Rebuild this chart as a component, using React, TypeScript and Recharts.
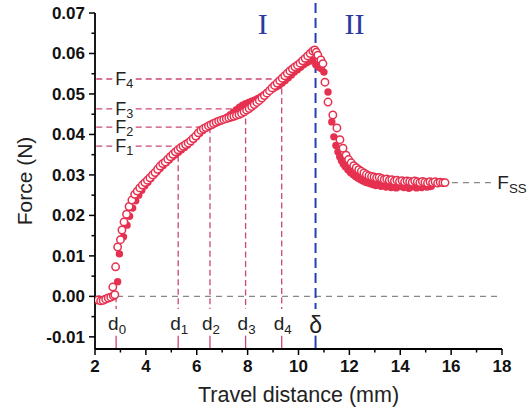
import { ScatterChart, Scatter, XAxis, YAxis, ReferenceLine, ReferenceDot } from 'recharts';

// hollow markers (white centre)
const openTravel = [
  2.12, 2.22, 2.32, 2.42, 2.52, 2.62, 2.72, 2.78, 2.7, 2.81, 2.89, 3.0, 3.06, 3.14, 3.24, 3.34,
  3.45, 3.56, 3.66, 3.76, 3.86, 3.96, 4.06, 4.16, 4.26, 4.36, 4.46, 4.56, 4.66, 4.76, 4.86, 4.96,
  5.06, 5.16, 5.26, 5.36, 5.46, 5.56, 5.66, 5.76, 5.86, 5.96, 6.06, 6.16, 6.26, 6.36, 6.46, 6.56,
  6.66, 6.76, 6.86, 6.96, 7.06, 7.16, 7.26, 7.36, 7.46, 7.56, 7.66, 7.76, 7.86, 7.96, 8.06, 8.16,
  8.26, 8.36, 8.46, 8.56, 8.66, 8.76, 8.86, 8.96, 9.06, 9.16, 9.26, 9.36, 9.46, 9.56, 9.66, 9.76,
  9.86, 9.96, 10.06, 10.16, 10.26, 10.36, 10.46, 10.56, 10.64, 10.7, 10.76, 10.88, 10.96, 11.04,
  11.16, 11.35, 11.51, 11.63, 11.75, 11.87, 11.97, 12.07, 12.17, 12.27, 12.37, 12.47, 12.57, 12.67,
  12.77, 12.87, 12.97, 13.07, 13.17, 13.27, 13.37, 13.47, 13.57, 13.67, 13.77, 13.87, 13.97, 14.07,
  14.17, 14.27, 14.37, 14.47, 14.57, 14.67, 14.77, 14.87, 14.97, 15.07, 15.17, 15.27, 15.37, 15.47,
  15.57, 15.67, 15.76,
];
const openForce = [
  -0.0009, -0.0011, -0.001, -0.0007, -0.0004, -0.0002, 0.0001, 0.0004, 0.0023, 0.0073, 0.0122, 0.014,
  0.0164, 0.0184, 0.0203, 0.0222, 0.0238, 0.0252, 0.026, 0.0268, 0.0275, 0.0281, 0.0287, 0.0293,
  0.03, 0.0306, 0.0314, 0.0322, 0.0328, 0.0332, 0.0339, 0.0345, 0.0351, 0.0357, 0.0362, 0.0367,
  0.0371, 0.0375, 0.0379, 0.0384, 0.039, 0.0396, 0.0404, 0.041, 0.0414, 0.0417, 0.0421, 0.0424,
  0.0427, 0.043, 0.0433, 0.0435, 0.0437, 0.0439, 0.0441, 0.0443, 0.0445, 0.0447, 0.0449, 0.0452,
  0.0456, 0.046, 0.0464, 0.0469, 0.0474, 0.0479, 0.0484, 0.049, 0.0496, 0.0502, 0.0508, 0.0515,
  0.0521, 0.0527, 0.0533, 0.0539, 0.0545, 0.0551, 0.0557, 0.0562, 0.0567, 0.0571, 0.0576, 0.0582,
  0.0588, 0.0594, 0.06, 0.0606, 0.0609, 0.0603, 0.0596, 0.0584, 0.0575, 0.0529, 0.048, 0.0448,
  0.0416, 0.0387, 0.0366, 0.0349, 0.0338, 0.033, 0.0323, 0.0318, 0.0313, 0.0309, 0.0305, 0.0301,
  0.0298, 0.0296, 0.0295, 0.0293, 0.0294, 0.0291, 0.0289, 0.029, 0.0287, 0.0288, 0.0285, 0.0287,
  0.0284, 0.0286, 0.0283, 0.0285, 0.0284, 0.0282, 0.0285, 0.0283, 0.0281, 0.0284, 0.0282, 0.028,
  0.0283, 0.0281, 0.0283, 0.028, 0.0282, 0.0281, 0.0281,
];

// filled markers
const solidTravel = [
  2.18, 2.4, 2.6, 2.75, 2.89, 2.96, 3.12, 3.26, 3.36, 3.48, 3.6, 3.72, 3.84, 3.96, 4.08, 4.2,
  4.32, 4.44, 4.56, 4.68, 4.8, 4.92, 5.04, 5.16, 5.28, 5.4, 5.52, 5.64, 5.76, 5.88, 6.0, 6.12,
  6.24, 6.36, 6.48, 6.6, 6.72, 6.84, 6.96, 7.08, 7.2, 7.32, 7.44, 7.56, 7.68, 7.8, 7.92, 8.04,
  8.16, 8.28, 8.4, 8.52, 8.64, 8.76, 8.88, 9.0, 9.12, 9.24, 9.36, 9.48, 9.6, 9.72, 9.84, 9.96,
  10.08, 10.2, 10.32, 10.44, 10.56, 10.68, 10.8, 10.9, 11.0, 11.16, 11.31, 11.39, 11.47, 11.55,
  11.62, 11.69, 11.76, 11.84, 11.94, 12.04, 12.14, 12.24, 12.34, 12.44, 12.54, 12.64, 12.74, 12.84,
  12.94, 13.04, 13.14, 13.24, 13.34, 13.44, 13.54, 13.64, 13.74, 13.84, 13.94, 14.04, 14.14, 14.24,
  14.34, 14.44, 14.54, 14.64, 14.74, 14.84, 14.94, 15.04, 15.14, 15.22,
];
const solidForce = [
  -0.0007, -0.0005, -0.0002, 0.0, 0.0036, 0.0105, 0.0147, 0.0176, 0.0198, 0.0218, 0.0236, 0.025,
  0.0262, 0.0273, 0.0282, 0.0291, 0.03, 0.0308, 0.0316, 0.0323, 0.033, 0.0337, 0.0344, 0.035,
  0.0356, 0.0362, 0.0368, 0.0374, 0.0381, 0.0388, 0.0395, 0.0403, 0.041, 0.0415, 0.0419, 0.0423,
  0.0427, 0.0431, 0.0434, 0.0438, 0.0443, 0.0449, 0.0455, 0.0461, 0.0467, 0.0472, 0.0476, 0.0479,
  0.0482, 0.0485, 0.0489, 0.0493, 0.0498, 0.0504, 0.0509, 0.0513, 0.0517, 0.0521, 0.0527, 0.0533,
  0.054, 0.0547, 0.0554, 0.056, 0.0566, 0.0572, 0.0577, 0.0581, 0.0584, 0.0572, 0.0566, 0.0562,
  0.0554, 0.0505, 0.0431, 0.0394, 0.0373, 0.0357, 0.0345, 0.0335, 0.0327, 0.032, 0.0313, 0.0306,
  0.0301, 0.0296, 0.0292, 0.0288, 0.0285, 0.0282, 0.028, 0.0278, 0.0276, 0.0274, 0.0276, 0.0272,
  0.0274, 0.027, 0.0273, 0.0269, 0.0272, 0.0268, 0.0271, 0.0273, 0.0269, 0.0271, 0.0267, 0.027,
  0.0272, 0.0268, 0.0271, 0.0269, 0.0272, 0.027, 0.0271, 0.0272,
];

const xTicks = [2, 3, 4, 5, 6, 7, 8, 9, 10, 11, 12, 13, 14, 15, 16, 17, 18];
const yTicks = [
  -0.01, -0.005, 0, 0.005, 0.01, 0.015, 0.02, 0.025, 0.03, 0.035, 0.04, 0.045, 0.05, 0.055,
  0.06, 0.065, 0.07,
];

const dMarks = [2.83, 5.27, 6.52, 7.92, 9.34]; // d0..d4
const fLevels = [0.0371, 0.0418, 0.0463, 0.0537]; // F1..F4
const deltaX = 10.67;
const fss = 0.0281;

const openData = openTravel.map((x, i) => ({ x, y: openForce[i] }));
const solidData = solidTravel.map((x, i) => ({ x, y: solidForce[i] }));

const RED = '#e6304f';
const PINK = '#cc4678';
const BLUE = '#2440b8';
const FONT = '"Liberation Sans", Arial, sans-serif';

const isMajorY = (v: number) => Math.abs(Math.round(v * 100) - v * 100) < 1e-6;

const XTick = (props: any) => {
  const { x, y, payload } = props;
  const major = payload.value % 2 === 0;
  return (
    <g>
      <line x1={x} y1={y} x2={x} y2={y + (major ? 6 : 3.5)} stroke="#000" strokeWidth={1.5} />
      {major && (
        <text x={x} y={y + 23} textAnchor="middle" fontFamily={FONT} fontWeight="bold" fontSize={17} fill="#111">
          {payload.value}
        </text>
      )}
    </g>
  );
};

const YTick = (props: any) => {
  const { x, y, payload } = props;
  const major = isMajorY(payload.value);
  return (
    <g>
      <line x1={x} y1={y} x2={x - (major ? 6 : 3.5)} y2={y} stroke="#000" strokeWidth={1.5} />
      {major && (
        <text x={x - 10} y={y + 6} textAnchor="end" fontFamily={FONT} fontWeight="bold" fontSize={17} fill="#111">
          {payload.value.toFixed(2)}
        </text>
      )}
    </g>
  );
};

const subText =
  (main: string, sub: string, dx: number, dy: number, size: number, subDy: number, anchor = 'start') =>
  (props: any) => {
    const { viewBox } = props;
    const cx = viewBox.x + viewBox.width / 2;
    const cy = viewBox.y + viewBox.height / 2;
    return (
      <text x={cx + dx} y={cy + dy} textAnchor={anchor} fontFamily={FONT} fontSize={size} fill="#222">
        {main}
        {sub && (
          <tspan fontSize={size * 0.7} dy={subDy}>
            {sub}
          </tspan>
        )}
      </text>
    );
  };

const romanText = (value: string) => (props: any) => {
  const { viewBox } = props;
  const cx = viewBox.x + viewBox.width / 2;
  const cy = viewBox.y + viewBox.height / 2;
  return (
    <text x={cx} y={cy + 21} textAnchor="middle" fontFamily='"Liberation Serif", "Times New Roman", serif' fontSize={30} fill="#2b3a9e">
      {value}
    </text>
  );
};

const hollowDot = (props: any) => (
  <circle cx={props.cx} cy={props.cy} r={3.7} fill="#fff" stroke={RED} strokeWidth={1.5} />
);
const solidDot = (props: any) => <circle cx={props.cx} cy={props.cy} r={3.7} fill={RED} />;

export default function App() {
  return (
    <div style={{ width: 529, height: 415, background: '#fff' }}>
      <style>{'body{margin:0}'}</style>
      <ScatterChart width={529} height={415} margin={{ top: 13, right: 27, bottom: 0, left: 0 }}>
        <XAxis
          type="number"
          dataKey="x"
          domain={[2, 18]}
          ticks={xTicks}
          interval={0}
          allowDataOverflow
          tick={<XTick />}
          tickLine={false}
          tickSize={0}
          tickMargin={0}
          height={66}
          axisLine={{ stroke: '#000', strokeWidth: 1.8 }}
          label={{
            value: 'Travel distance (mm)',
            position: 'insideBottom',
            offset: 13,
            style: { fontFamily: FONT, fontSize: 21.5, fill: '#222' },
          }}
        />
        <YAxis
          type="number"
          dataKey="y"
          domain={[-0.013, 0.07]}
          ticks={yTicks}
          interval={0}
          allowDataOverflow
          tick={<YTick />}
          tickLine={false}
          tickSize={0}
          tickMargin={0}
          width={95}
          axisLine={{ stroke: '#000', strokeWidth: 1.8 }}
          label={{
            content: (p: any) => {
              const vb = p.viewBox;
              const cx = vb.x + 24;
              const cy = vb.y + vb.height / 2;
              return (
                <text
                  x={cx}
                  y={cy}
                  transform={`rotate(-90, ${cx}, ${cy})`}
                  textAnchor="middle"
                  dominantBaseline="central"
                  fontFamily={FONT}
                  fontSize={21}
                  fill="#222"
                >
                  Force (N)
                </text>
              );
            },
          }}
        />

        <ReferenceLine segment={[{ x: 2, y: 0 }, { x: 18, y: 0 }]} stroke="#888" strokeDasharray="6 5" strokeWidth={1.2} />

        {fLevels.map((f, i) => (
          <ReferenceLine
            key={`fa${i}`}
            segment={[{ x: 2.05, y: f }, { x: 2.68, y: f }]}
            stroke={PINK}
            strokeDasharray="6 4"
            strokeWidth={1.3}
          />
        ))}
        {fLevels.map((f, i) => (
          <ReferenceLine
            key={`fb${i}`}
            segment={[{ x: 3.6, y: f }, { x: dMarks[i + 1], y: f }]}
            stroke={PINK}
            strokeDasharray="6 4"
            strokeWidth={1.3}
          />
        ))}
        {dMarks.map((d, i) => (
          <ReferenceLine
            key={`da${i}`}
            segment={[{ x: d, y: i === 0 ? 0 : fLevels[i - 1] }, { x: d, y: -0.0031 }]}
            stroke={PINK}
            strokeDasharray="6 3.5"
            strokeWidth={1.3}
          />
        ))}
        {dMarks.map((d, i) => (
          <ReferenceLine
            key={`db${i}`}
            segment={[{ x: d, y: -0.0097 }, { x: d, y: -0.013 }]}
            stroke={PINK}
            strokeWidth={1.3}
          />
        ))}

        <Scatter data={solidData} shape={solidDot} isAnimationActive={false} />
        <Scatter data={openData} shape={hollowDot} isAnimationActive={false} />

        <ReferenceLine segment={[{ x: 12.9, y: fss }, { x: 15.6, y: fss }]} stroke="#444" strokeDasharray="6 5" strokeWidth={1.2} />
        <ReferenceLine segment={[{ x: 15.6, y: fss }, { x: 17.7, y: fss }]} stroke="#888" strokeDasharray="6 5" strokeWidth={1.2} />

        <ReferenceLine
          segment={[{ x: deltaX, y: 0.0725 }, { x: deltaX, y: -0.0031 }]}
          ifOverflow="visible"
          stroke={BLUE}
          strokeDasharray="10 5"
          strokeWidth={2}
        />
        <ReferenceLine segment={[{ x: deltaX, y: -0.0097 }, { x: deltaX, y: -0.013 }]} stroke={BLUE} strokeWidth={2} />

        {fLevels.map((f, i) => (
          <ReferenceDot key={`fl${i}`} x={2.8} y={f} r={0} stroke="none" label={subText('F', String(i + 1), 0, 6, 18, 3)} />
        ))}
        {dMarks.map((d, i) => (
          <ReferenceDot key={`dl${i}`} x={d} y={-0.0071} r={0} stroke="none" label={subText('d', String(i), -8, 5, 19, 4)} />
        ))}
        <ReferenceDot x={deltaX} y={-0.0071} r={0} stroke="none" label={subText('δ', '', 0, 8, 23, 0, 'middle')} />
        <ReferenceDot x={17.7} y={fss} r={0} stroke="none" ifOverflow="visible" label={subText('F', 'SS', 3, 6.5, 19, 4)} />
        <ReferenceDot x={8.59} y={0.07} r={0} stroke="none" label={romanText('I')} />
        <ReferenceDot x={12.2} y={0.07} r={0} stroke="none" label={romanText('II')} />
      </ScatterChart>
    </div>
  );
}
